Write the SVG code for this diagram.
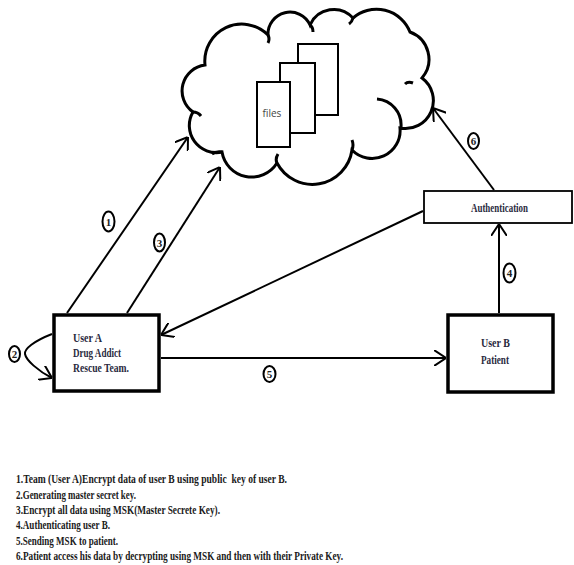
<svg xmlns="http://www.w3.org/2000/svg" width="574" height="565" viewBox="0 0 574 565">
<defs>
<style>
.ln{stroke:#000;stroke-width:2;fill:none}
.box{fill:#fff;stroke:#000;stroke-width:3.5}
.nt{font-family:"Liberation Serif","Times New Roman",serif;font-weight:bold;font-size:12px;fill:#2a2a3e}
.lg{font-family:"Liberation Serif","Times New Roman",serif;font-weight:bold;font-size:12.5px;fill:#1a1a1a}
.lbl{fill:#fff;stroke:#000;stroke-width:2}
.lt{font-family:"Liberation Serif","Times New Roman",serif;font-size:11px;font-weight:bold;fill:#222;text-anchor:middle}
.file{fill:#fff;stroke:#000;stroke-width:2}
</style>
<marker id="ah" viewBox="0 0 12 16" refX="12" refY="8" markerWidth="12" markerHeight="16" markerUnits="userSpaceOnUse" orient="auto">
<path d="M0,0 L12,8 L0,16" fill="none" stroke="#000" stroke-width="2"/>
</marker>
</defs>
<rect width="574" height="565" fill="#fff"/>

<g id="cloud">
<path d="M193,112 A26,26 0 0 1 205,65 A37,37 0 0 1 268,35 A22,22 0 0 1 310,25 A26,26 0 0 1 353,18 A36,36 0 0 1 410,32 A29,29 0 0 1 422,78 A28,28 0 0 1 400,128 A28,28 0 0 1 352,150 A40,40 0 0 1 277,163 A30,30 0 0 1 222,152 A27,27 0 0 1 193,112 Z" fill="#fff" stroke="#000" stroke-width="3"/>
<path d="M268,35 q2,4 0,8 M310,25 q3,2 3,7 M353,18 q-1,4 -4,6 M413,83 q-5,-2 -8,1 M377,99 A26,26 0 0 1 401,127 M352,150 q2,-5 0,-10 M277,163 q-2,-4 1,-9 M222,152 q-6,-1 -10,2 M193,112 q5,0 8,4" fill="none" stroke="#000" stroke-width="3"/>
<rect class="file" x="298" y="44" width="40" height="71"/>
<rect class="file" x="280" y="63" width="35" height="70"/>
<rect class="file" x="257" y="82" width="33" height="65"/>
<text x="272" y="117" font-family="Open Sans, 'Liberation Sans', sans-serif" font-size="10" fill="#444" text-anchor="middle">files</text>
</g>

<g id="connectors">
<line class="ln" x1="67" y1="313" x2="188" y2="137" marker-end="url(#ah)"/>
<line class="ln" x1="127" y1="313" x2="220" y2="167" marker-end="url(#ah)"/>
<path class="ln" d="M52,334 C34,341 24,349 25,354 C26,360 38,371 52,378" marker-end="url(#ah)"/>
<line class="ln" x1="499" y1="313" x2="499" y2="224" marker-end="url(#ah)"/>
<line class="ln" x1="161" y1="358" x2="446" y2="358" marker-end="url(#ah)"/>
<line class="ln" x1="494" y1="190" x2="433" y2="108" marker-end="url(#ah)"/>
<line class="ln" x1="423" y1="211" x2="161" y2="335" marker-end="url(#ah)"/>
<ellipse class="lbl" cx="108.5" cy="221.5" rx="6" ry="10"/><text class="lt" x="108.5" y="225.5">1</text>
<ellipse class="lbl" cx="14.5" cy="354" rx="5.5" ry="8"/><text class="lt" x="14.5" y="358">2</text>
<ellipse class="lbl" cx="159.5" cy="242.5" rx="5.5" ry="9"/><text class="lt" x="159.5" y="246.5">3</text>
<ellipse class="lbl" cx="509.5" cy="273" rx="6" ry="9.5"/><text class="lt" x="509.5" y="277">4</text>
<ellipse class="lbl" cx="269.5" cy="374" rx="6" ry="8"/><text class="lt" x="269.5" y="378">5</text>
<ellipse class="lbl" cx="473.5" cy="141" rx="5.5" ry="8"/><text class="lt" x="473.5" y="145">6</text>
</g>

<g id="userA">
<rect class="box" x="54" y="315" width="105" height="76"/>
<text class="nt" x="73" y="342" textLength="29" lengthAdjust="spacingAndGlyphs">User A</text>
<text class="nt" x="73" y="357" textLength="48" lengthAdjust="spacingAndGlyphs">Drug Addict</text>
<text class="nt" x="73" y="372" textLength="56" lengthAdjust="spacingAndGlyphs">Rescue Team.</text>
</g>

<g id="userB">
<rect class="box" x="448" y="315" width="105" height="77"/>
<text class="nt" x="481" y="347" textLength="29" lengthAdjust="spacingAndGlyphs">User B</text>
<text class="nt" x="481" y="364" textLength="28" lengthAdjust="spacingAndGlyphs">Patient</text>
</g>

<g id="authentication">
<rect x="424" y="191" width="148" height="32" fill="#fff" stroke="#000" stroke-width="1.8"/>
<text class="nt" x="471" y="212" textLength="57" lengthAdjust="spacingAndGlyphs">Authentication</text>
</g>

<g id="legend">
<text class="lg" x="16" y="483" textLength="271" lengthAdjust="spacingAndGlyphs" xml:space="preserve">1.Team (User A)Encrypt data of user B using public  key of user B.</text>
<text class="lg" x="16" y="498.5" textLength="120" lengthAdjust="spacingAndGlyphs">2.Generating master secret key.</text>
<text class="lg" x="16" y="514" textLength="204" lengthAdjust="spacingAndGlyphs">3.Encrypt all data using MSK(Master Secrete Key).</text>
<text class="lg" x="16" y="529" textLength="94" lengthAdjust="spacingAndGlyphs">4.Authenticating user B.</text>
<text class="lg" x="16" y="545" textLength="102" lengthAdjust="spacingAndGlyphs">5.Sending MSK to patient.</text>
<text class="lg" x="16" y="560" textLength="327" lengthAdjust="spacingAndGlyphs">6.Patient access his data by decrypting using MSK and then with their Private Key.</text>
</g>
</svg>
